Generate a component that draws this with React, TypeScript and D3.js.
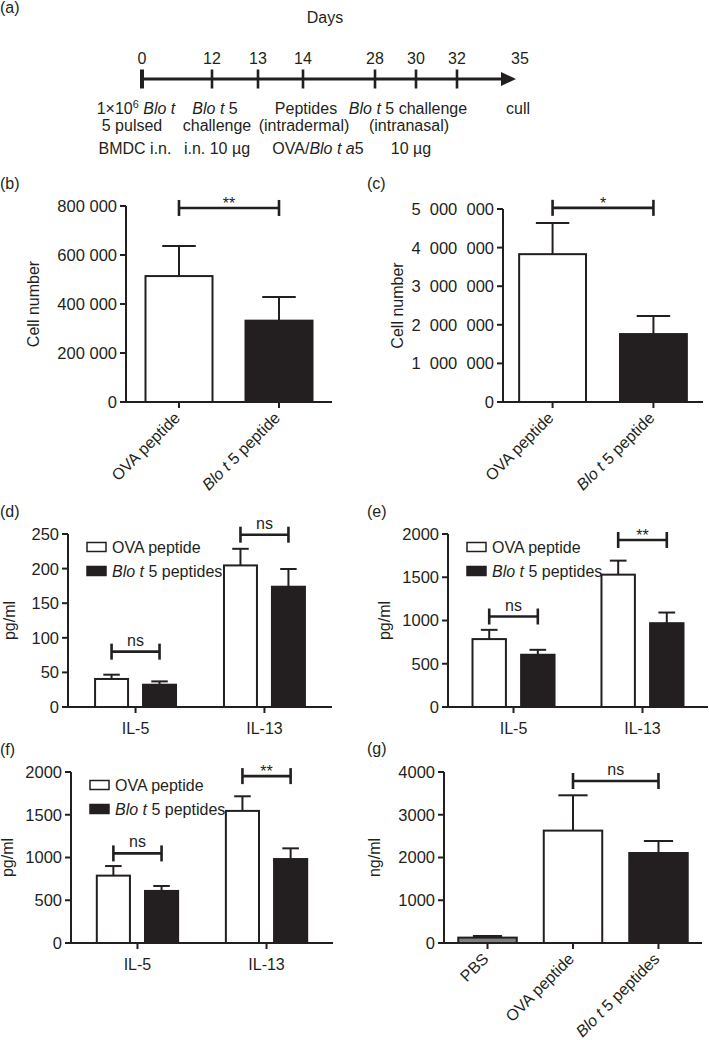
import React from 'react';
import * as d3 from 'd3';

const FONT = '"Liberation Sans", Arial, Helvetica, sans-serif';
const INK = '#231f20';
const GREY = '#7f7f7f';
const FS = 16;
const TICK_FS = 16.5;

// ---------- (a) timeline ----------
const timelineDays = [0, 12, 13, 14, 28, 30, 32, 35];
// schematic (non-proportional) spacing between consecutive days, in px (layout)
const timelineSpacing = [70, 46, 45, 72, 41, 41, 61];

type Seg = { t: string; i?: boolean; sup?: boolean };
const timelineNotes: { day: number; dx: number[]; lines: Seg[][] }[] = [
  { day: 0, dx: [-6, -10, -7], lines: [[{ t: '1×10' }, { t: '6', sup: true }, { t: ' ' }, { t: 'Blo t', i: true }], [{ t: '5 pulsed' }], [{ t: 'BMDC i.n.' }]] },
  { day: 12, dx: [3, 5, 5], lines: [[{ t: 'Blo t', i: true }, { t: ' 5' }], [{ t: 'challenge' }], [{ t: 'i.n. 10 µg' }]] },
  { day: 14, dx: [3, 1, 15], lines: [[{ t: 'Peptides' }], [{ t: '(intradermal)' }], [{ t: 'OVA/' }, { t: 'Blo t a', i: true }, { t: '5' }]] },
  { day: 30, dx: [-8, -7, -5], lines: [[{ t: 'Blo t', i: true }, { t: ' 5 challenge' }], [{ t: '(intranasal)' }], [{ t: '10 µg' }]] },
  { day: 35, dx: [0, 0, 0], lines: [[{ t: 'cull' }], [], []] },
];

// ---------- (b) cell number ----------
const cellGroups = ['OVA peptide', 'Blo t 5 peptide'];
const bCellMean = [514000, 332000];
const bCellSem = [123000, 97000];
const bTicks = [0, 200000, 400000, 600000, 800000];

// ---------- (c) cell number ----------
const cCellMean = [3830000, 1760000];
const cCellSem = [810000, 470000];
const cTicks = [0, 1000000, 2000000, 3000000, 4000000, 5000000];

// ---------- (d)(e)(f) cytokines ----------
const cytokines = ['IL-5', 'IL-13'];
const seriesNames = ['OVA peptide', 'Blo t 5 peptides'];
const dOvaMean = [40.5, 204.6];
const dOvaSem = [6.2, 24];
const dBloMean = [32.2, 173.8];
const dBloSem = [4.8, 25.6];
const dTicks = [0, 50, 100, 150, 200, 250];

const eOvaMean = [785, 1530];
const eOvaSem = [107, 162];
const eBloMean = [604, 969];
const eBloSem = [57, 123];
const eTicks = [0, 500, 1000, 1500, 2000];

const fOvaMean = [788, 1545];
const fOvaSem = [112, 171];
const fBloMean = [609, 982];
const fBloSem = [58, 125];
const fTicks = [0, 500, 1000, 1500, 2000];

// ---------- (g) ----------
const gGroups = ['PBS', 'OVA peptide', 'Blo t 5 peptides'];
const gMean = [126, 2629, 2105];
const gSem = [38, 826, 281];
const gTicks = [0, 1000, 2000, 3000, 4000];

const spacedB = d3.formatLocale({ decimal: '.', thousands: ' ', grouping: [3], currency: ['', ''] }).format(',d');
const spacedC = d3.formatLocale({ decimal: '.', thousands: '\u2007', grouping: [3], currency: ['', ''] }).format(',d');
const plain = d3.format('d');

function Rich({ segs, x, y, anchor = 'middle', size = FS }: { segs: Seg[]; x: number; y: number; anchor?: string; size?: number }) {
  const out: React.ReactNode[] = [];
  let raised = false;
  segs.forEach((s, k) => {
    let dy: number | undefined;
    if (s.sup && !raised) { dy = -6; raised = true; }
    else if (!s.sup && raised) { dy = 6; raised = false; }
    out.push(
      <tspan key={k} dy={dy} fontStyle={s.i ? 'italic' : 'normal'} fontSize={s.sup ? size * 0.68 : size}>{s.t}</tspan>
    );
  });
  return <text x={x} y={y} textAnchor={anchor} fontFamily={FONT} fontSize={size} fill={INK}>{out}</text>;
}

function labelSegs(name: string): Seg[] {
  if (name.startsWith('Blo t')) return [{ t: 'Blo t', i: true }, { t: name.slice(5) }];
  return [{ t: name }];
}

function Timeline() {
  const cum = [0];
  timelineSpacing.forEach((s) => cum.push(cum[cum.length - 1] + s));
  const x = d3.scaleLinear().domain(timelineDays).range(cum.map((c) => 142 + c));
  const yLine = 79;
  const last = timelineDays[timelineDays.length - 1];
  const tip = x(last) - 2;
  return (
    <g>
      <text x={325} y={23} textAnchor="middle" fontFamily={FONT} fontSize={FS} fill={INK}>Days</text>
      <line x1={x(0)} x2={tip - 13} y1={yLine} y2={yLine} stroke={INK} strokeWidth={3} />
      <path d={d3.line()([[tip - 15, yLine - 7], [tip, yLine], [tip - 15, yLine + 7]]) + 'Z'} fill={INK} />
      {timelineDays.map((d, k) => (
        <g key={d}>
          {d !== last && (
            <line x1={x(d)} x2={x(d)} y1={yLine - 9.5} y2={yLine + 9.5} stroke={INK} strokeWidth={k === 0 ? 4 : 2.6} />
          )}
          <text x={x(d) + (d === last ? 2 : 0)} y={64} textAnchor="middle" fontFamily={FONT} fontSize={FS} fill={INK}>{d}</text>
        </g>
      ))}
      {timelineNotes.map((n) =>
        n.lines.map((segs, li) =>
          segs.length ? (
            <Rich key={n.day + '-' + li} segs={segs} x={x(n.day) + n.dx[li]} y={[114, 131, 154][li]} />
          ) : null
        )
      )}
    </g>
  );
}

interface PanelProps {
  tag: string; tagX: number; tagY: number;
  xr: [number, number]; yr: [number, number];
  ticks: number[]; fmt: (n: number) => string;
  groups: string[]; series: string[];
  means: number[][]; sems: number[][];
  fills: (si: number, gi: number) => string;
  pi: number; po: number;
  yTitle: string; yTitleX: number;
  rotated: boolean;
  legend?: boolean;
  brackets: { a: [number, number]; b: [number, number]; v: number; text: string }[];
}

function Panel(p: PanelProps) {
  const y = d3.scaleLinear().domain([0, p.ticks[p.ticks.length - 1]]).range(p.yr);
  const xo = d3.scaleBand<string>().domain(p.groups).range(p.xr).paddingInner(p.pi).paddingOuter(p.po);
  const xi = d3.scaleBand<string>().domain(p.series).range([0, xo.bandwidth()]).paddingInner(p.series.length > 1 ? 0.3125 : 0);
  const bx = (gi: number, si: number) => (xo(p.groups[gi]) as number) + (xi(p.series[si]) as number);
  const bw = xi.bandwidth();
  const cx = (gi: number, si: number) => bx(gi, si) + bw / 2;
  const gc = (gi: number) => (xo(p.groups[gi]) as number) + xo.bandwidth() / 2;
  const x0 = p.xr[0];
  const y0 = y(0);
  const yTop = y(p.ticks[p.ticks.length - 1]);
  const ymid = (y0 + yTop) / 2;
  return (
    <g fontFamily={FONT} fill={INK}>
      <text x={p.tagX} y={p.tagY} fontSize={FS}>{p.tag}</text>
      {/* bars */}
      {p.groups.map((g, gi) =>
        p.series.map((s, si) => {
          const m = p.means[si][gi];
          const e = p.sems[si][gi];
          const xx = bx(gi, si);
          const c = cx(gi, si);
          return (
            <g key={g + s}>
              <line x1={c} x2={c} y1={y(m)} y2={y(m + e)} stroke={INK} strokeWidth={2} />
              <line x1={c - bw / 4} x2={c + bw / 4} y1={y(m + e)} y2={y(m + e)} stroke={INK} strokeWidth={2} />
              <rect x={xx} y={y(m)} width={bw} height={y0 - y(m)} fill={p.fills(si, gi)} stroke={INK} strokeWidth={2} />
            </g>
          );
        })
      )}
      {/* y axis */}
      <line x1={x0} x2={x0} y1={yTop} y2={y0} stroke={INK} strokeWidth={2} />
      {p.ticks.map((t) => (
        <g key={t}>
          <line x1={x0 - 6} x2={x0} y1={y(t)} y2={y(t)} stroke={INK} strokeWidth={2} />
          <text x={x0 - 9} y={y(t)} dy="0.36em" textAnchor="end" fontSize={TICK_FS}>{p.fmt(t)}</text>
        </g>
      ))}
      {/* x axis */}
      <line x1={x0 - 1} x2={p.xr[1]} y1={y0} y2={y0} stroke={INK} strokeWidth={2} />
      {p.groups.map((g, gi) => (
        <g key={g}>
          <line x1={gc(gi)} x2={gc(gi)} y1={y0} y2={y0 + 6} stroke={INK} strokeWidth={2} />
          {p.rotated ? (
            <g transform={`translate(${gc(gi) + 2},${y0 + 17}) rotate(-45)`}>
              <Rich segs={labelSegs(g)} x={0} y={0} anchor="end" />
            </g>
          ) : (
            <text x={gc(gi)} y={y0 + 27} textAnchor="middle" fontSize={FS}>{g}</text>
          )}
        </g>
      ))}
      {/* y title */}
      <text transform={`translate(${p.yTitleX},${ymid}) rotate(-90)`} textAnchor="middle" fontSize={FS}>{p.yTitle}</text>
      {/* legend */}
      {p.legend &&
        p.series.map((s, si) => (
          <g key={s}>
            <rect x={x0 + 19} y={yTop + 8.5 + si * 24} width={19} height={9} fill={p.fills(si, 0)} stroke={INK} strokeWidth={1.5} />
            <Rich segs={labelSegs(s)} x={x0 + 44} y={yTop + 18.5 + si * 24} anchor="start" />
          </g>
        ))}
      {/* significance */}
      {p.brackets.map((b, k) => {
        const xa = cx(b.a[0], b.a[1]);
        const xb = cx(b.b[0], b.b[1]);
        const yy = y(b.v);
        const star = b.text.startsWith('*');
        return (
          <g key={k}>
            <line x1={xa} x2={xb} y1={yy} y2={yy} stroke={INK} strokeWidth={2.6} />
            <line x1={xa} x2={xa} y1={yy - 8} y2={yy + 8} stroke={INK} strokeWidth={2.6} />
            <line x1={xb} x2={xb} y1={yy - 8} y2={yy + 8} stroke={INK} strokeWidth={2.6} />
            <text x={(xa + xb) / 2} y={star ? yy + 1 : yy - 6} textAnchor="middle" fontSize={FS}>{b.text}</text>
          </g>
        );
      })}
    </g>
  );
}

export default function App() {
  const soloFill = (_si: number, gi: number) => (gi === 0 ? '#ffffff' : INK);
  const pairFill = (si: number) => (si === 0 ? '#ffffff' : INK);
  const gFill = (_si: number, gi: number) => [GREY, '#ffffff', INK][gi];
  return (
    <svg width={709} height={1040} style={{ position: 'absolute', left: 0, top: 0, background: '#fff' }}>
      <rect width={709} height={1040} fill="#fff" />
      <text x={0} y={13} fontFamily={FONT} fontSize={FS} fill={INK}>(a)</text>
      <Timeline />
      <Panel tag="(b)" tagX={0} tagY={189} xr={[126, 332]} yr={[402, 206]} ticks={bTicks} fmt={spacedB}
        groups={cellGroups} series={['v']} means={[bCellMean]} sems={[bCellSem]} fills={soloFill}
        pi={0.33} po={0.195} yTitle="Cell number" yTitleX={39} rotated
        brackets={[{ a: [0, 0], b: [1, 0], v: 792000, text: '**' }]} />
      <Panel tag="(c)" tagX={367} tagY={189} xr={[503, 703]} yr={[402, 209]} ticks={cTicks} fmt={spacedC}
        groups={cellGroups} series={['v']} means={[cCellMean]} sems={[cCellSem]} fills={soloFill}
        pi={0.337} po={0.16} yTitle="Cell number" yTitleX={403} rotated
        brackets={[{ a: [0, 0], b: [1, 0], v: 5030000, text: '*' }]} />
      <Panel tag="(d)" tagX={0} tagY={517} xr={[68, 332]} yr={[707, 534]} ticks={dTicks} fmt={plain}
        groups={cytokines} series={seriesNames} means={[dOvaMean, dBloMean]} sems={[dOvaSem, dBloSem]} fills={pairFill}
        pi={0.372} po={0.21} yTitle="pg/ml" yTitleX={15} rotated={false} legend
        brackets={[{ a: [0, 0], b: [0, 1], v: 80, text: 'ns' }, { a: [1, 0], b: [1, 1], v: 249, text: 'ns' }]} />
      <Panel tag="(e)" tagX={367} tagY={517} xr={[448, 708]} yr={[707, 534]} ticks={eTicks} fmt={plain}
        groups={cytokines} series={seriesNames} means={[eOvaMean, eBloMean]} sems={[eOvaSem, eBloSem]} fills={pairFill}
        pi={0.364} po={0.19} yTitle="pg/ml" yTitleX={390} rotated={false} legend
        brackets={[{ a: [0, 0], b: [0, 1], v: 1046, text: 'ns' }, { a: [1, 0], b: [1, 1], v: 1931, text: '**' }]} />
      <Panel tag="(f)" tagX={0} tagY={755} xr={[71, 333]} yr={[943, 772]} ticks={fTicks} fmt={plain}
        groups={cytokines} series={seriesNames} means={[fOvaMean, fBloMean]} sems={[fOvaSem, fBloSem]} fills={pairFill}
        pi={0.37} po={0.2} yTitle="pg/ml" yTitleX={13} rotated={false} legend
        brackets={[{ a: [0, 0], b: [0, 1], v: 1048, text: 'ns' }, { a: [1, 0], b: [1, 1], v: 1952, text: '**' }]} />
      <Panel tag="(g)" tagX={367} tagY={754} xr={[444, 702]} yr={[943, 772]} ticks={gTicks} fmt={plain}
        groups={gGroups} series={['v']} means={[gMean]} sems={[gSem]} fills={gFill}
        pi={0.316} po={0.167} yTitle="ng/ml" yTitleX={380} rotated
        brackets={[{ a: [1, 0], b: [2, 0], v: 3789, text: 'ns' }]} />
    </svg>
  );
}
